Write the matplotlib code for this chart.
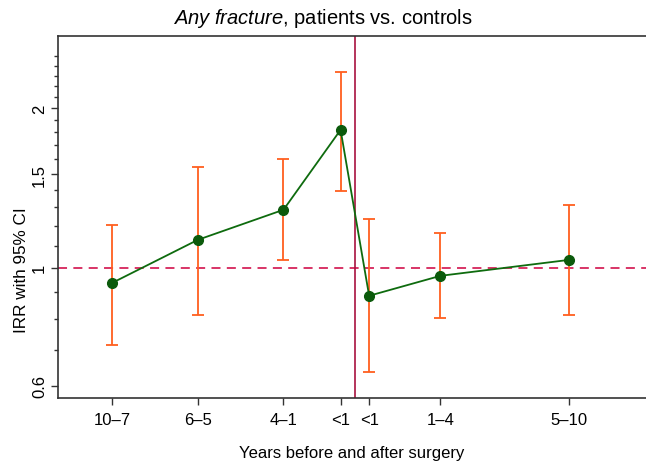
import matplotlib
matplotlib.use("Agg")
import matplotlib.pyplot as plt
from matplotlib.ticker import FixedLocator, NullFormatter

plt.rcParams['font.family'] = ['Liberation Sans', 'DejaVu Sans']
plt.rcParams['mathtext.fontset'] = 'custom'
plt.rcParams['mathtext.it'] = 'Liberation Sans:italic'
plt.rcParams['mathtext.rm'] = 'Liberation Sans'

categories = ['10–7', '6–5', '4–1', '<1', '<1', '1–4', '5–10']
xpos = [-8.5, -5.5, -2.5, -0.5, 0.5, 3.0, 7.5]
irr = [0.937, 1.129, 1.286, 1.818, 0.886, 0.966, 1.035]
ci_low = [0.716, 0.816, 1.035, 1.396, 0.637, 0.805, 0.816]
ci_high = [1.205, 1.549, 1.604, 2.338, 1.237, 1.164, 1.314]
yticks = [0.6, 1, 1.5, 2]
yticklabels = ['0.6', '1', '1.5', '2']
yminor = [0.7, 0.8, 0.9, 1.1, 1.2, 1.3, 1.4, 1.6, 1.7, 1.8, 1.9, 2.1, 2.2, 2.3, 2.4, 2.5]

fig = plt.figure(figsize=(6.46, 4.64), dpi=100)
ax = fig.add_axes([58/646, 1-399/464, (646-58)/646, (399-37)/464])
ax.set_yscale('log')

ax.axhline(1, color='#D6245A', lw=1.3, ls=(0, (5, 3.5)), zorder=1)
ax.axvline(0, color='#A8123F', lw=1.2, zorder=1)

err_lo = [v - l for v, l in zip(irr, ci_low)]
err_hi = [h - v for v, h in zip(irr, ci_high)]
ax.errorbar(xpos, irr, yerr=[err_lo, err_hi], fmt='none', ecolor='#FF5F1F',
            elinewidth=1.3, capsize=4.5, capthick=1.3, zorder=2)
ax.plot(xpos, irr, color='#0E6B0E', lw=1.3, zorder=3)
ax.plot(xpos, irr, 'o', color='#0B5A0B', markersize=7, zorder=4)

ax.set_xlim(-10.4, 10.2)
ax.set_ylim(0.569, 2.73)

ax.set_xticks(xpos)
ax.set_xticklabels(categories, fontsize=12)
ax.yaxis.set_major_locator(FixedLocator(yticks))
ax.yaxis.set_minor_locator(FixedLocator(yminor))
ax.yaxis.set_minor_formatter(NullFormatter())
ax.set_yticklabels(yticklabels, fontsize=12, rotation=90, va='center')

ax.tick_params(axis='x', which='major', length=5, width=1, color='#333333', pad=5)
ax.tick_params(axis='y', which='major', length=5, width=1, color='#333333', pad=3)
ax.tick_params(axis='y', which='minor', length=3, width=1, color='#333333')
for side in ['left', 'bottom', 'top']:
    ax.spines[side].set_color('#333333')
    ax.spines[side].set_linewidth(1.2)
ax.spines['right'].set_visible(False)

ax.set_ylabel('IRR with 95% CI', fontsize=12.3)
ax.yaxis.set_label_coords((22-58)/588, (399-270)/362)
ax.yaxis.label.set_va('center')
ax.set_xlabel('Years before and after surgery', fontsize=12, labelpad=13)
fig.text(0.5, 1-18/464, r'$\it{Any\ fracture}$, patients vs. controls',
         fontsize=14.5, ha='center', va='center')

fig.savefig('out.png', dpi=100)
